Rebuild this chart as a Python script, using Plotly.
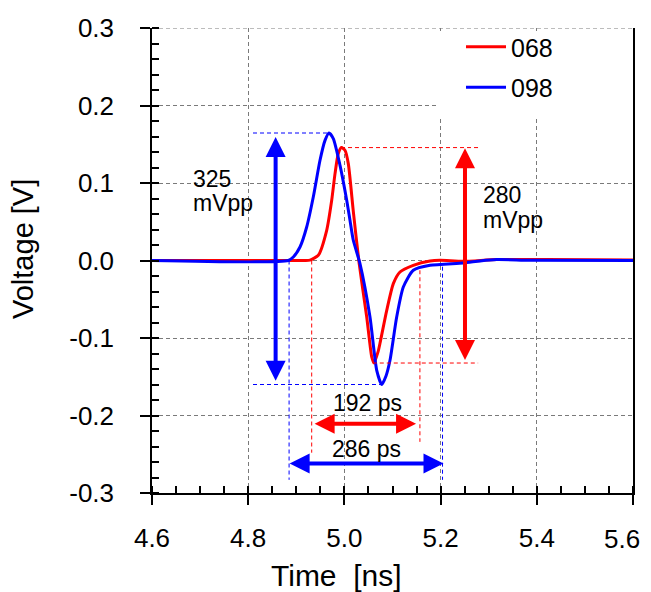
import plotly.graph_objects as go

# ---- data ----
t_068 = [4.600, 4.887, 4.918, 4.9285, 4.9457, 4.9632, 4.9736, 4.9805, 4.9873, 4.994,
         5.0012, 5.0081, 5.0185, 5.0304, 5.0464, 5.0568, 5.0615, 5.0699, 5.074, 5.088,
         5.1017, 5.1156, 5.1432, 5.178, 5.1988, 5.2466, 5.3166, 5.4206, 5.600]
v_068 = [0.0, 0.0, 0.0, 0.0005, 0.0067, 0.039, 0.0777, 0.1121, 0.138, 0.1457,
         0.1422, 0.125, 0.0635, -0.0023, -0.0729, -0.1245, -0.1323, -0.118, -0.1068, -0.0643,
         -0.0298, -0.0148, -0.0062, -0.0006, 0.0003, -0.001, 0.0012, 0.0012, 0.0005]

t_098 = [4.600, 4.8834, 4.8938, 4.9077, 4.9216, 4.9353, 4.9493, 4.9597, 4.968, 4.9769,
         4.9909, 5.0048, 5.0116, 5.0185, 5.0324, 5.0532, 5.0672, 5.0775, 5.0865, 5.0948,
         5.1087, 5.1225, 5.1432, 5.178, 5.2472, 5.2819, 5.3166, 5.3859, 5.600]
v_098 = [0.0, 0.0, 0.0045, 0.0174, 0.0432, 0.0819, 0.1293, 0.155, 0.1645, 0.1573,
         0.1228, 0.0777, 0.0519, 0.0261, -0.004, -0.0729, -0.1417, -0.160, -0.149, -0.1288,
         -0.0729, -0.0342, -0.0126, -0.0062, -0.0032, -0.0006, 0.0012, 0.0003, 0.0]

series_names = ["068", "098"]
series_colors = ["#ff0000", "#0000ff"]

# measurement markers (peak / min levels, width edges)
blue_pp = [0.1645, -0.160]        # 325 mVpp
red_pp = [0.1457, -0.1323]        # 280 mVpp
blue_pp_t = [4.968, 5.0775]       # time of blue peak / min
red_pp_t = [4.993, 5.059]         # time of red peak / min
red_edges = [4.932, 5.157]        # 192 ps
blue_edges = [4.885, 5.204]       # 286 ps
labels_pp = ["325", "280"]
label_unit = "mVpp"
labels_w = ["192 ps", "286 ps"]

x_ticks = [4.6, 4.8, 5.0, 5.2, 5.4, 5.6]
y_ticks = [-0.3, -0.2, -0.1, 0.0, 0.1, 0.2, 0.3]

FONT = "Liberation Sans, Arial, sans-serif"
RED, BLUE = series_colors

fig = go.Figure()
for name, t, v, c, g in zip(series_names, [t_068, t_098], [v_068, v_098], series_colors, ["a", "b"]):
    fig.add_trace(go.Scatter(x=t, y=v, mode="lines", name=name, legendgroup=g,
                             line=dict(color=c, width=3, shape="spline", smoothing=0.6)))

dash = "4px,3px"
GRID = "#7a7a7a"
shapes = []
# white box behind legend
shapes.append(dict(type="rect", xref="x", yref="y", x0=5.192, x1=5.598, y0=0.183, y1=0.296,
                   fillcolor="white", line=dict(width=0), layer="between"))
# dashed top frame line
shapes.append(dict(type="line", xref="paper", yref="y", x0=0, x1=1, y0=y_ticks[-1], y1=y_ticks[-1],
                   line=dict(color=GRID, width=1, dash=dash), layer="between"))
# blue level lines
shapes.append(dict(type="line", xref="x", yref="y", x0=4.81, x1=blue_pp_t[0], y0=blue_pp[0], y1=blue_pp[0],
                   line=dict(color=BLUE, width=1, dash=dash)))
shapes.append(dict(type="line", xref="x", yref="y", x0=4.81, x1=blue_pp_t[1], y0=blue_pp[1], y1=blue_pp[1],
                   line=dict(color=BLUE, width=1, dash=dash)))
# red level lines
shapes.append(dict(type="line", xref="x", yref="y", x0=red_pp_t[0], x1=5.278, y0=red_pp[0], y1=red_pp[0],
                   line=dict(color=RED, width=1, dash=dash)))
shapes.append(dict(type="line", xref="x", yref="y", x0=red_pp_t[1], x1=5.278, y0=red_pp[1], y1=red_pp[1],
                   line=dict(color=RED, width=1, dash=dash)))
# red width verticals
shapes.append(dict(type="line", xref="x", yref="y", x0=red_edges[0], x1=red_edges[0], y0=0.0, y1=-0.248,
                   line=dict(color=RED, width=1, dash=dash)))
shapes.append(dict(type="line", xref="x", yref="y", x0=red_edges[1], x1=red_edges[1], y0=-0.0126, y1=-0.234,
                   line=dict(color=RED, width=1, dash=dash)))
# blue width verticals
shapes.append(dict(type="line", xref="x", yref="y", x0=blue_edges[0], x1=blue_edges[0], y0=0.0, y1=-0.283,
                   line=dict(color=BLUE, width=1, dash=dash)))
shapes.append(dict(type="line", xref="x", yref="y", x0=blue_edges[1], x1=blue_edges[1], y0=-0.008, y1=-0.283,
                   line=dict(color=BLUE, width=1, dash=dash)))

annotations = []


def double_arrow(x0, y0, x1, y1, color):
    annotations.append(dict(x=x1, y=y1, ax=x0, ay=y0, xref="x", yref="y", axref="x", ayref="y",
                            text="", showarrow=True, arrowhead=2, startarrowhead=2,
                            arrowside="end+start", arrowwidth=4, arrowsize=1, startarrowsize=1,
                            arrowcolor=color, standoff=0, startstandoff=0))


double_arrow(4.857, blue_pp[1] + 0.003, 4.857, blue_pp[0] - 0.005, BLUE)
double_arrow(5.2507, red_pp[1] + 0.002, 5.2507, red_pp[0] - 0.001, RED)
double_arrow(red_edges[0] + 0.003, -0.2105, red_edges[1] - 0.008, -0.2105, RED)
double_arrow(blue_edges[0] - 0.002, -0.262, blue_edges[1] + 0.002, -0.262, BLUE)

# page body has an 8px margin: the figure starts at (8, 8) in the window
OFF = 8
W, H = 651 - OFF, 592 - OFF
L, R, T, B = 152 - OFF, 18, 28 - OFF, 99


def px_x(p):
    return (p - OFF - L) / (W - L - R)


def px_y(p):
    return 1 - (p - OFF - T) / (H - T - B)


tf = dict(family=FONT, size=23, color="black")
af = dict(family=FONT, size=29, color="black")
tick_font = dict(family=FONT, size=26, color="black")

# x tick labels: the last one is right-aligned near the page edge so it stays whole
x_text = [f"{v:.1f}" for v in x_ticks]
last_label = x_text[-1]
x_text[-1] = ""

annotations += [
    dict(x=4.682, y=0.1048, xref="x", yref="y", text=labels_pp[0], showarrow=False, xanchor="left", font=tf),
    dict(x=4.682, y=0.0738, xref="x", yref="y", text=label_unit, showarrow=False, xanchor="left", font=tf),
    dict(x=5.2834, y=0.0841, xref="x", yref="y", text=labels_pp[1], showarrow=False, xanchor="left", font=tf),
    dict(x=5.2834, y=0.0519, xref="x", yref="y", text=label_unit, showarrow=False, xanchor="left", font=tf),
    dict(x=5.049, y=-0.184, xref="x", yref="y", text=labels_w[0], showarrow=False, font=tf),
    dict(x=5.045, y=-0.2428, xref="x", yref="y", text=labels_w[1], showarrow=False, font=tf),
    dict(x=px_x(641), y=px_y(539), xref="paper", yref="paper", text=last_label,
         xanchor="right", yanchor="middle", showarrow=False, font=tick_font, borderpad=0),
    # axis titles
    dict(x=px_x(336), y=px_y(575), xref="paper", yref="paper", text="Time\u00a0 [ns]",
         xanchor="center", yanchor="middle", showarrow=False,
         font=dict(family=FONT, size=30, color="black")),
    dict(x=px_x(23), y=px_y(249), xref="paper", yref="paper", text="Voltage [V]",
         xanchor="center", yanchor="middle", textangle=-90, showarrow=False, font=af),
]

grid = dict(showgrid=True, gridcolor=GRID, gridwidth=1, griddash=dash, zeroline=False,
            showline=True, linecolor="black", linewidth=1.5, ticks="outside", ticklen=10,
            tickwidth=1.5, tickcolor="black", automargin=False, ticklabeloverflow="allow",
            tickfont=tick_font)

fig.update_layout(
    width=W, height=H,
    margin=dict(l=L, r=R, t=T, b=B, autoexpand=False),
    plot_bgcolor="white", paper_bgcolor="white",
    showlegend=True,
    legend=dict(x=px_x(461), y=px_y(24), xanchor="left", yanchor="top", bgcolor="rgba(0,0,0,0)",
                font=dict(family=FONT, size=25, color="black"), tracegroupgap=5,
                traceorder="grouped", itemwidth=40),
    shapes=shapes,
    annotations=annotations,
    xaxis=dict(range=[4.6, 5.6], tickvals=x_ticks, ticktext=x_text,
               minor=dict(dtick=0.05, ticks="inside", ticklen=7, tickcolor="black", showgrid=False),
               mirror=False, ticklabelstandoff=11, **grid),
    yaxis=dict(range=[-0.3, 0.3], tickvals=y_ticks, ticktext=[f"{v:.1f}" for v in y_ticks],
               minor=dict(dtick=0.02, ticks="inside", ticklen=7, tickcolor="black", showgrid=False),
               mirror=True, ticklabelstandoff=21, **grid),
)

fig.write_html("out.html")
